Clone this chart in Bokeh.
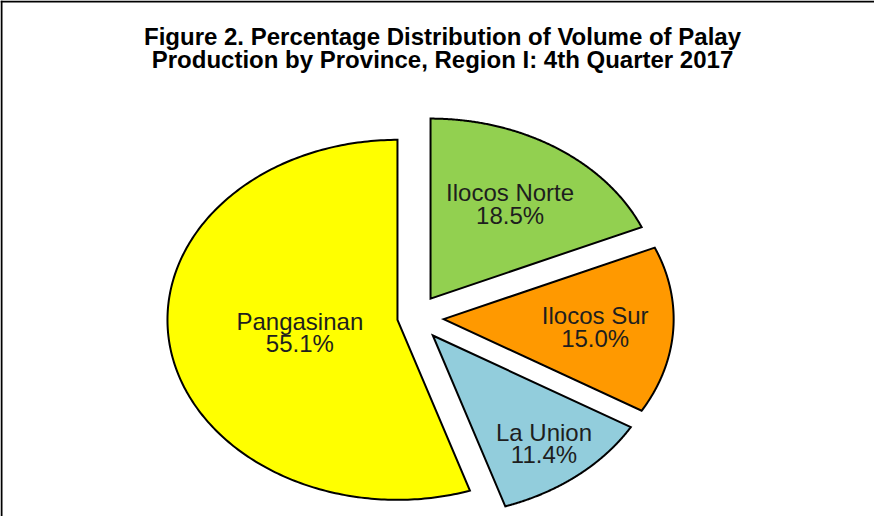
import numpy as np
from bokeh.plotting import figure
from bokeh.models import Range1d, Span, Label
from bokeh.core.properties import value
from bokeh.embed import file_html
from bokeh.resources import INLINE

# ---- data ----
provinces = ["Ilocos Norte", "Ilocos Sur", "La Union", "Pangasinan"]
shares = [18.5, 15.0, 11.4, 55.1]
title_lines = ["Figure 2. Percentage Distribution of Volume of Palay",
               "Production by Province, Region I: 4th Quarter 2017"]

# ---- styling / layout ----
colors = ["#92D050", "#FF9900", "#92CDDC", "#FFFF00"]
explode = [0.127, 0.127, 0.127, 0.075]
label_r = [0.63, 0.66, 0.77, 0.43]

W, H = 874, 516
RX, RY = 230.0, 180.0        # pixels per data unit (elliptical pie)
CX, CY = 414.0, 317.2        # pie centre in canvas pixels

x_range = Range1d(-CX / RX, (W - CX) / RX)
y_range = Range1d(-(H - CY) / RY, CY / RY)

p = figure(width=W, height=H, x_range=x_range, y_range=y_range,
           output_backend="svg", toolbar_location=None,
           x_axis_type=None, y_axis_type=None, min_border=0,
           outline_line_color=None, background_fill_color="white",
           border_fill_color="white")
p.grid.visible = False

total = float(sum(shares))
fr = np.array(shares) / total
ends = np.cumsum(fr) * 2 * np.pi
starts = ends - fr * 2 * np.pi

xs, ys, lx, ly = [], [], [], []
for s, e, ex, lr in zip(starts, ends, explode, label_r):
    m = (s + e) / 2
    ox, oy = ex * np.sin(m), ex * np.cos(m)
    t = np.linspace(s, e, 240)
    xs.append(list(np.concatenate([[ox], ox + np.sin(t)])))
    ys.append(list(np.concatenate([[oy], oy + np.cos(t)])))
    lx.append(ox + lr * np.sin(m))
    ly.append(oy + lr * np.cos(m))

p.patches(xs=xs, ys=ys, fill_color=colors, line_color="black",
          line_width=2, line_join="miter")

font = value("Liberation Sans")
p.text(x=lx, y=ly, text=provinces, y_offset=-11,
       text_font=font, text_font_size="24px", text_color="#1e1e1e",
       text_align="center", text_baseline="middle")
p.text(x=lx, y=ly, text=[f"{v:.1f}%" for v in shares], y_offset=11.5,
       text_font=font, text_font_size="24px", text_color="#1e1e1e",
       text_align="center", text_baseline="middle")

tx = (442 - CX) / RX
for line, cyp in zip(title_lines, [35.5, 58.8]):
    p.add_layout(Label(x=tx, y=(CY - cyp) / RY, text=line,
                       text_font="Liberation Sans", text_font_style="bold",
                       text_font_size="24px", text_color="black",
                       text_align="center", text_baseline="middle"))

p.add_layout(Span(location=(1 - CX) / RX, dimension="height",
                  line_color="black", line_width=2))
p.add_layout(Span(location=(CY - 1) / RY, dimension="width",
                  line_color="black", line_width=2))

open("out.html", "w").write(file_html(p, INLINE))
